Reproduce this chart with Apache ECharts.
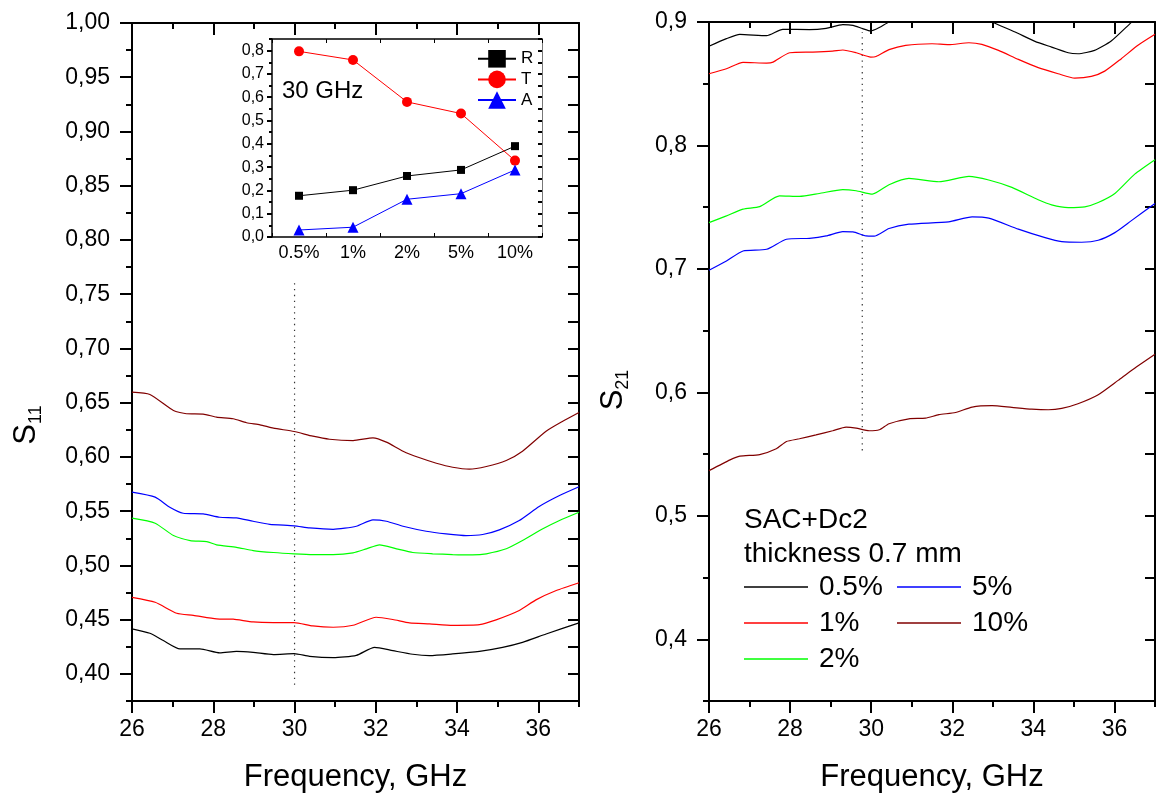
<!DOCTYPE html>
<html><head><meta charset="utf-8">
<script src="https://cdn.jsdelivr.net/npm/echarts@6/dist/echarts.min.js"></script>
<style>html,body{margin:0;padding:0;background:#fff}#c{width:1157px;height:803px}</style>
</head><body><div id="c"></div>
<script>
// ---------- DATA ----------
const seriesNames = ['0.5%', '1%', '2%', '5%', '10%'];
const freqMajor = [26, 28, 30, 32, 34, 36];
const freqMinor = [27, 29, 31, 33, 35, 37];
const s11Major = [0.40, 0.45, 0.50, 0.55, 0.60, 0.65, 0.70, 0.75, 0.80, 0.85, 0.90, 0.95, 1.00];
const s11Minor = [0.375, 0.425, 0.475, 0.525, 0.575, 0.625, 0.675, 0.725, 0.775, 0.825, 0.875, 0.925, 0.975];
const s21Major = [0.4, 0.5, 0.6, 0.7, 0.8, 0.9];
const s21Minor = [0.35, 0.45, 0.55, 0.65, 0.75, 0.85];
const insetMajor = [0, 0.1, 0.2, 0.3, 0.4, 0.5, 0.6, 0.7, 0.8];
const insetMinor = [0.05, 0.15, 0.25, 0.35, 0.45, 0.55, 0.65, 0.75, 0.85];

// S11 curves [GHz, S11]
const s11_05 = [[26.0,0.4415],[26.44,0.4374],[26.77,0.4307],[27.18,0.4230],[27.67,0.4230],[28.16,0.4193],[28.57,0.4208],[28.98,0.4199],[29.48,0.4178],[29.99,0.4187],[30.37,0.4162],[30.95,0.4150],[31.52,0.4171],[31.97,0.4245],[32.42,0.4214],[32.91,0.4181],[33.32,0.4169],[33.89,0.4184],[34.55,0.4208],[35.12,0.4245],[35.61,0.4291],[36.19,0.4368],[37.0,0.4470]];
const s11_1 = [[26.0,0.4706],[26.57,0.4660],[27.10,0.4559],[27.51,0.4540],[28.08,0.4507],[28.49,0.4504],[28.98,0.4479],[29.48,0.4473],[29.99,0.4473],[30.45,0.4442],[30.95,0.4430],[31.44,0.4448],[32.01,0.4522],[32.42,0.4501],[32.83,0.4470],[33.32,0.4461],[33.89,0.4448],[34.55,0.4454],[34.96,0.4498],[35.53,0.4584],[35.94,0.4682],[36.44,0.4768],[37.0,0.4840]];
const s11_2 = [[26.0,0.5435],[26.57,0.5389],[27.02,0.5275],[27.43,0.5229],[27.84,0.5220],[28.08,0.5190],[28.57,0.5167],[28.98,0.5137],[29.48,0.5119],[29.99,0.5107],[30.45,0.5100],[30.95,0.5100],[31.44,0.5116],[31.77,0.5153],[32.09,0.5190],[32.51,0.5153],[32.91,0.5119],[33.40,0.5107],[33.89,0.5100],[34.38,0.5097],[34.72,0.5107],[35.21,0.5153],[35.61,0.5229],[36.11,0.5337],[36.52,0.5414],[37.0,0.5490]];
const s11_5 = [[26.0,0.5675],[26.57,0.5629],[26.93,0.5536],[27.26,0.5481],[27.75,0.5475],[28.16,0.5444],[28.57,0.5438],[28.98,0.5407],[29.39,0.5379],[29.99,0.5365],[30.37,0.5346],[30.95,0.5333],[31.52,0.5361],[31.93,0.5420],[32.26,0.5407],[32.67,0.5361],[33.24,0.5315],[33.73,0.5291],[34.22,0.5275],[34.63,0.5285],[35.04,0.5328],[35.53,0.5414],[36.02,0.5543],[36.52,0.5644],[37.0,0.5725]];
const s11_10 = [[26.0,0.6597],[26.44,0.6576],[27.02,0.6428],[27.34,0.6398],[27.75,0.6395],[28.08,0.6367],[28.49,0.6352],[28.82,0.6315],[29.15,0.6296],[29.48,0.6265],[29.99,0.6234],[30.45,0.6191],[30.86,0.6163],[31.44,0.6151],[31.93,0.6176],[32.26,0.6136],[32.67,0.6053],[33.08,0.5992],[33.49,0.5942],[33.89,0.5905],[34.30,0.5887],[34.72,0.5912],[35.21,0.5967],[35.61,0.6053],[36.19,0.6237],[36.60,0.6329],[37.0,0.6410]];

// S21 curves [GHz, S21]
const s21_05 = [[26.0,0.8803],[26.43,0.8865],[26.76,0.8900],[27.42,0.8889],[27.82,0.8941],[28.48,0.8938],[28.89,0.8949],[29.30,0.8979],[29.55,0.8973],[29.79,0.8946],[29.99,0.8927],[30.20,0.8955],[30.44,0.9000],[30.90,0.9060],[31.50,0.9090],[32.00,0.9100],[32.50,0.9080],[32.98,0.9000],[33.55,0.8919],[34.04,0.8843],[34.45,0.8797],[34.86,0.8751],[35.10,0.8743],[35.51,0.8770],[35.92,0.8846],[36.41,0.8995],[36.70,0.9080],[37.0,0.9180]];
const s21_1 = [[26.0,0.8581],[26.43,0.8621],[26.84,0.8673],[27.42,0.8667],[27.58,0.8675],[27.99,0.8751],[28.56,0.8756],[29.05,0.8764],[29.30,0.8773],[29.63,0.8751],[29.99,0.8716],[30.12,0.8721],[30.44,0.8776],[30.85,0.8811],[31.50,0.8824],[31.91,0.8816],[32.41,0.8832],[32.73,0.8819],[33.14,0.8770],[33.63,0.8697],[34.12,0.8630],[34.61,0.8581],[35.02,0.8545],[35.43,0.8559],[35.76,0.8602],[36.17,0.8703],[36.58,0.8811],[37.0,0.8900]];
const s21_2 = [[26.0,0.7375],[26.43,0.7430],[26.84,0.7484],[27.25,0.7505],[27.74,0.7592],[28.23,0.7587],[28.72,0.7611],[29.30,0.7643],[29.63,0.7633],[30.03,0.7606],[30.44,0.7682],[30.93,0.7733],[31.67,0.7706],[32.41,0.7749],[32.90,0.7720],[33.47,0.7660],[34.12,0.7560],[34.45,0.7519],[34.86,0.7497],[35.27,0.7503],[35.60,0.7538],[36.01,0.7611],[36.50,0.7768],[37.0,0.7885]];
const s21_5 = [[26.0,0.6989],[26.43,0.7064],[26.84,0.7145],[27.42,0.7159],[27.91,0.7240],[28.48,0.7248],[28.89,0.7267],[29.30,0.7302],[29.55,0.7300],[29.87,0.7267],[30.07,0.7265],[30.44,0.7327],[30.93,0.7362],[31.91,0.7381],[32.49,0.7422],[32.90,0.7411],[33.63,0.7322],[34.29,0.7253],[34.70,0.7221],[35.19,0.7216],[35.60,0.7232],[36.01,0.7294],[36.41,0.7389],[37.0,0.7530]];
const s21_10 = [[26.0,0.5366],[26.52,0.5453],[26.76,0.5483],[27.25,0.5496],[27.66,0.5543],[27.91,0.5602],[28.23,0.5624],[28.64,0.5656],[29.05,0.5689],[29.38,0.5718],[29.63,0.5710],[29.95,0.5689],[30.20,0.5697],[30.44,0.5746],[30.93,0.5786],[31.34,0.5791],[31.67,0.5819],[32.08,0.5837],[32.49,0.5881],[32.98,0.5892],[33.47,0.5878],[33.96,0.5864],[34.37,0.5859],[34.70,0.5870],[35.10,0.5908],[35.60,0.5981],[36.09,0.6097],[36.41,0.6176],[37.0,0.6309]];

// 30 GHz markers
const markS11 = [[30, 0.39], [30, 0.76]];
const markS21 = [[29.78, 0.553], [29.78, 0.892]];

// Inset (30 GHz)
const insetCats = ['0.5%', '1%', '2%', '5%', '10%'];
const insetR = [0.177, 0.201, 0.262, 0.288, 0.390];
const insetT = [0.797, 0.760, 0.580, 0.530, 0.328];
const insetA = [0.030, 0.042, 0.162, 0.186, 0.288];

// ---------- STYLE ----------
const FONT = "'Liberation Sans', Arial, sans-serif";
const COLORS = ['#000000', '#ff0000', '#00ff00', '#0000ff', '#800000'];
const BLK = '#000';

function vaxis(grid, pos, min, max, ticks, len, inside, label) {
  const a = {
    type: 'value', gridIndex: grid, position: pos, min: min, max: max,
    axisLine: { show: true, onZero: false, lineStyle: { color: BLK, width: 2 } },
    axisTick: { show: true, inside: inside, length: len, customValues: ticks, lineStyle: { color: BLK, width: 2 } },
    axisLabel: { show: false },
    splitLine: { show: false },
    minorTick: { show: false }
  };
  if (label) a.axisLabel = label;
  return a;
}
const comma = d => v => v.toFixed(d).replace('.', ',');
const LBL = (vals, fmt, margin, size) => ({ show: true, customValues: vals, formatter: fmt, margin: margin, color: BLK, fontSize: size, fontFamily: FONT });
const freqName = { name: 'Frequency, GHz', nameLocation: 'middle', nameGap: 61, nameTextStyle: { fontSize: 31, fontFamily: FONT, color: BLK } };

const xAxes = [
  // grid 0 (S11)
  Object.assign(vaxis(0, 'bottom', 26, 37, freqMajor, 12, false, LBL(freqMajor, v => String(v), 17, 23)), freqName),
  vaxis(0, 'bottom', 26, 37, freqMinor, 6, false),
  vaxis(0, 'top', 26, 37, freqMajor, 12, true),
  vaxis(0, 'top', 26, 37, freqMinor, 6, true),
  // grid 1 (S21)
  Object.assign(vaxis(1, 'bottom', 26, 37, freqMajor, 12, false, LBL(freqMajor, v => String(v), 17, 23)), freqName),
  vaxis(1, 'bottom', 26, 37, freqMinor, 6, false),
  vaxis(1, 'top', 26, 37, freqMajor, 12, true),
  vaxis(1, 'top', 26, 37, freqMinor, 6, true),
  // grid 2 (inset)
  {
    type: 'category', gridIndex: 2, position: 'bottom', data: insetCats, boundaryGap: true,
    axisLine: { show: true, onZero: false, lineStyle: { color: BLK, width: 1.5 } },
    axisTick: { show: true, inside: true, length: 4, lineStyle: { color: BLK, width: 1 } },
    axisLabel: { color: BLK, fontSize: 18, fontFamily: FONT, margin: 7 },
    splitLine: { show: false }
  },
  {
    type: 'category', gridIndex: 2, position: 'top', data: insetCats, boundaryGap: true,
    axisLine: { show: true, onZero: false, lineStyle: { color: BLK, width: 1.5 } },
    axisTick: { show: true, inside: true, length: 4, lineStyle: { color: BLK, width: 1 } },
    axisLabel: { show: false }, splitLine: { show: false }
  }
];

const yAxes = [
  // grid 0
  vaxis(0, 'left', 0.375, 1.0, s11Major, 12, false, LBL(s11Major, comma(2), 22, 23)),
  vaxis(0, 'left', 0.375, 1.0, s11Minor, 6, false),
  vaxis(0, 'right', 0.375, 1.0, s11Major.concat(s11Minor), 11, true),
  // grid 1
  vaxis(1, 'left', 0.35, 0.9, s21Major, 12, false, LBL(s21Major, comma(1), 22, 23)),
  vaxis(1, 'left', 0.35, 0.9, s21Minor, 6, false),
  vaxis(1, 'right', 0.35, 0.9, s21Major.concat(s21Minor), 10, true),
  // grid 2 (inset)
  Object.assign(vaxis(2, 'left', 0, 0.85, insetMajor, 5, false, LBL(insetMajor, comma(1), 8, 16)),
    { axisLine: { show: true, onZero: false, lineStyle: { color: BLK, width: 1.5 } } }),
  Object.assign(vaxis(2, 'left', 0, 0.85, insetMinor, 3, false), { axisLine: { show: false } }),
  Object.assign(vaxis(2, 'right', 0, 0.85, insetMajor.concat(insetMinor), 4, true),
    { axisLine: { show: true, onZero: false, lineStyle: { color: '#777', width: 1 } } })
];
[1, 3, 5, 7].forEach(i => { xAxes[i].axisLine.show = false; });
[1, 4].forEach(i => { yAxes[i].axisLine.show = false; });

const s11Data = [s11_05, s11_1, s11_2, s11_5, s11_10];
const s21Data = [s21_05, s21_1, s21_2, s21_5, s21_10];

const series = [];
s11Data.forEach((d, i) => series.push({
  type: 'line', name: seriesNames[i], xAxisIndex: 0, yAxisIndex: 0, data: d,
  symbol: 'none', showSymbol: false, smooth: 0.2,
  lineStyle: { color: COLORS[i], width: 1.2 }, itemStyle: { color: COLORS[i] }, z: 3
}));
s21Data.forEach((d, i) => series.push({
  type: 'line', name: seriesNames[i], xAxisIndex: 4, yAxisIndex: 3, data: d,
  symbol: 'none', showSymbol: false, smooth: 0.2,
  lineStyle: { color: COLORS[i], width: 1.2 }, itemStyle: { color: COLORS[i] }, z: 3
}));
series.push({ type: 'line', name: 'mark1', xAxisIndex: 0, yAxisIndex: 0, data: markS11, symbol: 'none',
  lineStyle: { color: '#333', width: 1.2, type: [1.3, 4.5] }, z: 2 });
series.push({ type: 'line', name: 'mark2', xAxisIndex: 4, yAxisIndex: 3, data: markS21, symbol: 'none',
  lineStyle: { color: '#333', width: 1.2, type: [1.3, 4.5] }, z: 2 });
series.push({ type: 'line', name: 'R', xAxisIndex: 8, yAxisIndex: 6, data: insetR, symbol: 'rect', symbolSize: 8,
  lineStyle: { color: '#000', width: 1 }, itemStyle: { color: '#000' }, z: 5 });
series.push({ type: 'line', name: 'T', xAxisIndex: 8, yAxisIndex: 6, data: insetT, symbol: 'circle', symbolSize: 10,
  lineStyle: { color: '#ff0000', width: 1 }, itemStyle: { color: '#ff0000' }, z: 5 });
series.push({ type: 'line', name: 'A', xAxisIndex: 8, yAxisIndex: 6, data: insetA, symbol: 'triangle', symbolSize: 11,
  lineStyle: { color: '#0000ff', width: 1 }, itemStyle: { color: '#0000ff' }, z: 5 });

const legendText = { fontSize: 28, fontFamily: FONT, color: BLK, lineHeight: 28, padding: [0, 0, 0, 6] };
const option = {
  animation: false,
  backgroundColor: '#fff',
  grid: [
    { left: 132, top: 23, width: 447, height: 678 },
    { left: 709, top: 22, width: 446, height: 679 },
    { left: 272, top: 39, width: 270, height: 198 }
  ],
  xAxis: xAxes,
  yAxis: yAxes,
  legend: [
    { data: ['R', 'T', 'A'], orient: 'vertical', left: 477, top: 50, padding: 0, itemGap: 3,
      itemWidth: 38, itemHeight: 22, selectedMode: false,
      textStyle: { fontSize: 17, fontFamily: FONT, color: BLK, padding: [0, 0, 0, 0] } },
    { data: ['0.5%', '1%', '2%'], orient: 'vertical', left: 744, top: 573, padding: 0, itemGap: 8,
      itemWidth: 64, itemHeight: 1.5, icon: 'rect', selectedMode: false, textStyle: legendText },
    { data: ['5%', '10%'], orient: 'vertical', left: 897, top: 573, padding: 0, itemGap: 8,
      itemWidth: 64, itemHeight: 1.5, icon: 'rect', selectedMode: false, textStyle: legendText }
  ],
  graphic: [
    { type: 'text', left: 282, top: 79, style: { text: '30 GHz', fontSize: 24, fontFamily: FONT, fill: BLK } },
    { type: 'text', left: 744, top: 506, style: { text: 'SAC+Dc2', fontSize: 28, fontFamily: FONT, fill: BLK } },
    { type: 'text', left: 744, top: 540, style: { text: 'thickness 0.7 mm', fontSize: 28, fontFamily: FONT, fill: BLK } },
    { type: 'text', x: 30, y: 425, rotation: Math.PI / 2,
      style: { text: '{s|S}{b|11}', align: 'center', verticalAlign: 'middle', fill: BLK,
        rich: { s: { fontSize: 31, fontFamily: FONT, lineHeight: 31, padding: [0, 0, 8, 0], fill: BLK },
                b: { fontSize: 18, fontFamily: FONT, lineHeight: 18, verticalAlign: 'bottom', fill: BLK } } } },
    { type: 'text', x: 617, y: 390, rotation: Math.PI / 2,
      style: { text: '{s|S}{b|21}', align: 'center', verticalAlign: 'middle', fill: BLK,
        rich: { s: { fontSize: 31, fontFamily: FONT, lineHeight: 31, padding: [0, 0, 8, 0], fill: BLK },
                b: { fontSize: 18, fontFamily: FONT, lineHeight: 18, verticalAlign: 'bottom', fill: BLK } } } }
  ],
  series: series
};
const chart = echarts.init(document.getElementById('c'), null, { renderer: 'canvas' });
chart.setOption(option);
</script></body></html>
